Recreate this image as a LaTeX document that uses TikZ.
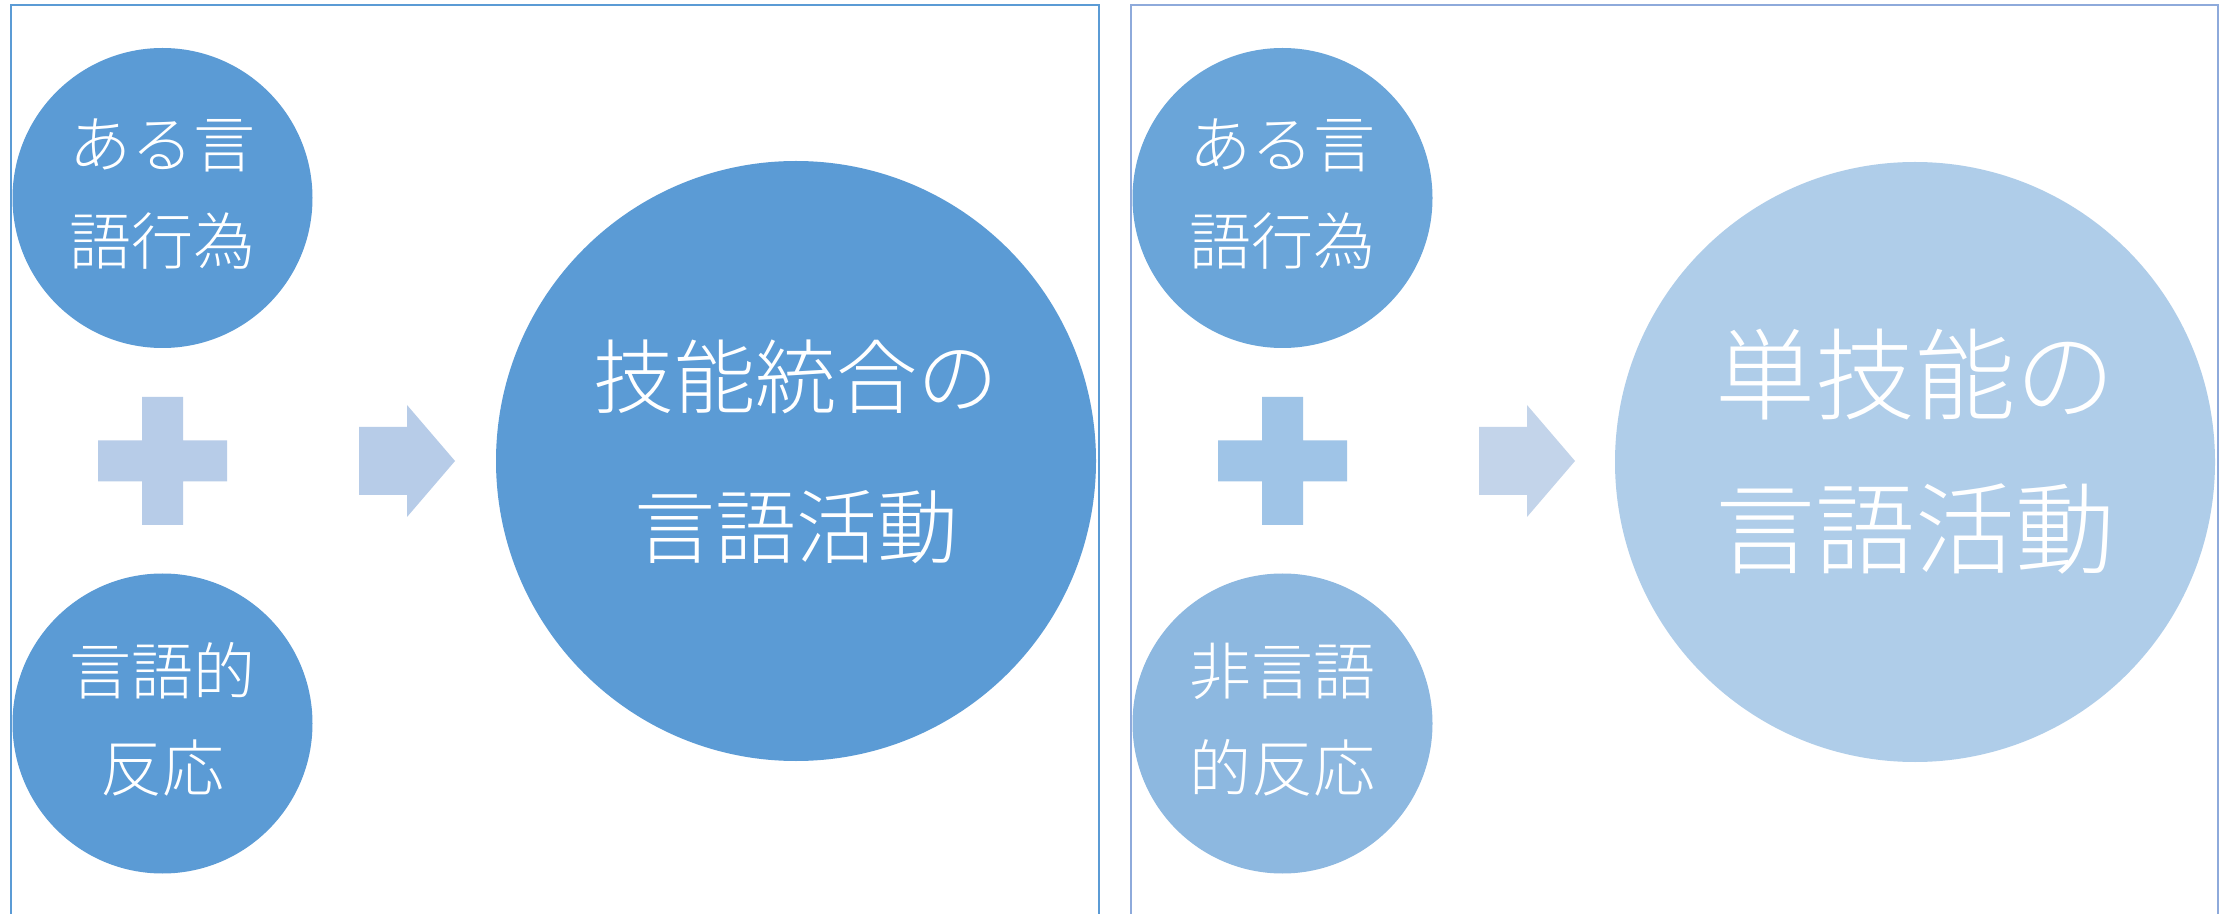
\documentclass[tikz,border=0pt]{standalone}
\usepackage{fontspec}
\newfontfamily\jp{Noto Sans CJK JP Light}
\definecolor{circL}{HTML}{5B9BD5}
\definecolor{plusL}{HTML}{B7CCE8}
\definecolor{circRt}{HTML}{6AA5D9}
\definecolor{circRb}{HTML}{8DB8E0}
\definecolor{plusR}{HTML}{9FC4E7}
\definecolor{arrR}{HTML}{C3D4EA}
\definecolor{bigR}{HTML}{AFCDE9}
\definecolor{frameL}{HTML}{5B9BD5}
\definecolor{frameR}{HTML}{8EAADB}
\begin{document}
\begin{tikzpicture}[x=0.5pt,y=-0.5pt,
  smallc/.style={circle,inner sep=0pt,minimum size=150pt,text=white,align=center,
    font=\jp\fontsize{31pt}{48.5pt}\selectfont},
  bigc/.style={circle,inner sep=0pt,minimum size=300pt,text=white,align=center},
  framebox/.style={line width=1pt},
  plusshape/.pic={\fill (-64.5,-20.5) -- (-20.5,-20.5) -- (-20.5,-64) -- (20.5,-64) -- (20.5,-20.5)
      -- (64.5,-20.5) -- (64.5,20.5) -- (20.5,20.5) -- (20.5,64) -- (-20.5,64) -- (-20.5,20.5)
      -- (-64.5,20.5) -- cycle;},
  arrowshape/.pic={\fill (0,-34) -- (48,-34) -- (48,-56) -- (96,0) -- (48,56) -- (48,34) -- (0,34) -- cycle;}
]
\useasboundingbox (0,0) rectangle (2234,914);
\clip (0,0) rectangle (2234,914);
\fill[white] (0,0) rectangle (2234,914);
% frames
\draw[framebox,frameL] (11,5) rectangle (1099,1000);
\draw[framebox,frameR] (1131,5) rectangle (2218,1000);
% left panel
\node[smallc,fill=circL] (l1) at (162.5,198) {};
\node[smallc,fill=circL] (l2) at (162.5,723.5) {};
\node[smallc] (l1t) at (162.5,194) {ある言\\語行為};
\node[smallc] (l2t) at (162.5,719.5) {言語的\\反応};
\pic[plusL] at (162.5,461) {plusshape};
\pic[plusL] at (359,461) {arrowshape};
\node[bigc,fill=circL] (l3) at (796,461) {};
\node[bigc,font=\jp\fontsize{40.5pt}{75pt}\selectfont] (l3t) at (796,452) {技能統合の\\言語活動};
% right panel
\node[smallc,fill=circRt] (r1) at (1282.5,198) {};
\node[smallc,fill=circRb] (r2) at (1282.5,723.5) {};
\node[smallc] (r1t) at (1282.5,194) {ある言\\語行為};
\node[smallc] (r2t) at (1282.5,719.5) {非言語\\的反応};
\pic[plusR] at (1282.5,461) {plusshape};
\pic[arrR] at (1479,461) {arrowshape};
\node[bigc,fill=bigR] (r3) at (1915,462) {};
\node[bigc,font=\jp\fontsize{50pt}{77pt}\selectfont] (r3t) at (1915,452) {単技能の\\言語活動};
\end{tikzpicture}
\end{document}
